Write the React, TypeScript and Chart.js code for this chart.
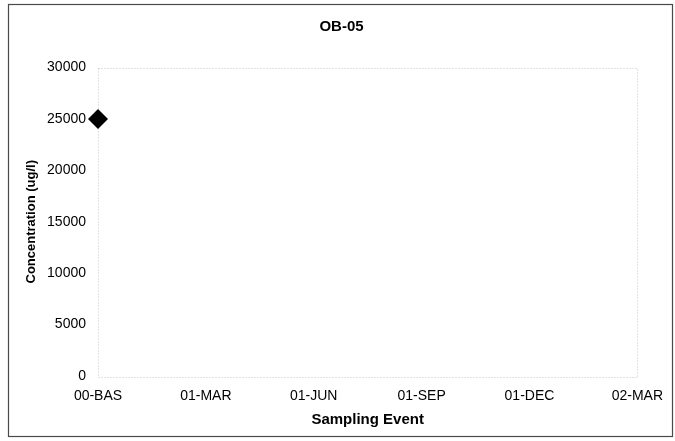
import { useEffect, useRef } from "react";
import { Chart, registerables } from "chart.js";

Chart.register(...registerables);

// Monitoring well and its sampling record
const chartTitle = "OB-05";
const samplingEvents = ["00-BAS", "01-MAR", "01-JUN", "01-SEP", "01-DEC", "02-MAR"];
const concentration: (number | null)[] = [25000, null, null, null, null, null];

// Axis text and value range
const yAxisTitle = "Concentration (ug/l)";
const xAxisTitle = "Sampling Event";
const yMin = 0;
const yMax = 30000;
const yStep = 5000;

const FONT = "'Liberation Sans', Arial, Helvetica, sans-serif";

// White page, heading, outer frame around the chart and a dotted box around the plot area
const framePlugin = {
  id: "frame",
  beforeDraw(chart: Chart) {
    const { ctx, width, height } = chart;
    ctx.save();
    ctx.fillStyle = "#ffffff";
    ctx.fillRect(0, 0, width, height);
    ctx.restore();
  },
  beforeDatasetsDraw(chart: Chart) {
    const { ctx, chartArea } = chart;
    ctx.save();
    ctx.strokeStyle = "#c4c4c4";
    ctx.lineWidth = 1;
    ctx.setLineDash([1, 2]);
    ctx.strokeRect(
      Math.round(chartArea.left) + 0.5,
      Math.round(chartArea.top) + 0.5,
      Math.round(chartArea.right - chartArea.left),
      Math.round(chartArea.bottom - chartArea.top)
    );
    ctx.restore();
  },
  afterDraw(chart: Chart) {
    const { ctx, width } = chart;
    ctx.save();
    ctx.fillStyle = "#000000";
    ctx.font = `bold 15px ${FONT}`;
    ctx.textAlign = "center";
    ctx.textBaseline = "middle";
    ctx.fillText(chartTitle, width / 2 + 4, 27);
    ctx.strokeStyle = "#4a4a4a";
    ctx.lineWidth = 1.2;
    ctx.strokeRect(8.5, 4.5, 664, 432);
    ctx.restore();
  },
};

export default function App() {
  const canvasRef = useRef<HTMLCanvasElement | null>(null);

  useEffect(() => {
    document.body.style.margin = "0";
    const canvas = canvasRef.current;
    if (!canvas) return;

    const chart = new Chart(canvas, {
      type: "line",
      data: {
        labels: samplingEvents,
        datasets: [
          {
            label: chartTitle,
            data: concentration,
            borderColor: "#000000",
            backgroundColor: "#000000",
            showLine: false,
            pointStyle: "rectRot",
            pointRadius: 10,
            pointBorderWidth: 0,
            pointBackgroundColor: "#000000",
          },
        ],
      },
      options: {
        responsive: false,
        animation: false,
        layout: { padding: { left: 20, right: 37, top: 67.5, bottom: 8.6 } },
        plugins: {
          legend: { display: false },
          tooltip: { enabled: false },
          title: { display: false },
        },
        scales: {
          x: {
            type: "category",
            offset: false,
            grid: { display: false, drawTicks: false },
            border: { display: false },
            ticks: {
              color: "#000000",
              font: { family: FONT, size: 14 },
              padding: 12,
              autoSkip: false,
              maxRotation: 0,
            },
            title: {
              display: true,
              text: xAxisTitle,
              color: "#000000",
              font: { family: FONT, size: 15, weight: "bold" },
              padding: { top: 4, bottom: 4 },
            },
            afterFit(scale: any) {
              scale.height = 56.4;
            },
          },
          y: {
            min: yMin,
            max: yMax,
            grid: { display: false, drawTicks: false },
            border: { display: false },
            ticks: {
              stepSize: yStep,
              color: "#000000",
              font: { family: FONT, size: 14 },
              padding: 12,
              callback: (v: any) => String(v),
            },
            title: {
              display: true,
              text: yAxisTitle,
              color: "#000000",
              font: { family: FONT, size: 13, weight: "bold" },
              padding: { top: 4, bottom: 4 },
            },
            afterFit(scale: any) {
              scale.width = 78;
            },
          },
        },
      },
      plugins: [framePlugin],
    });

    return () => chart.destroy();
  }, []);

  return (
    <div style={{ width: 675, height: 441 }}>
      <canvas ref={canvasRef} width={675} height={441} style={{ display: "block" }} />
    </div>
  );
}
